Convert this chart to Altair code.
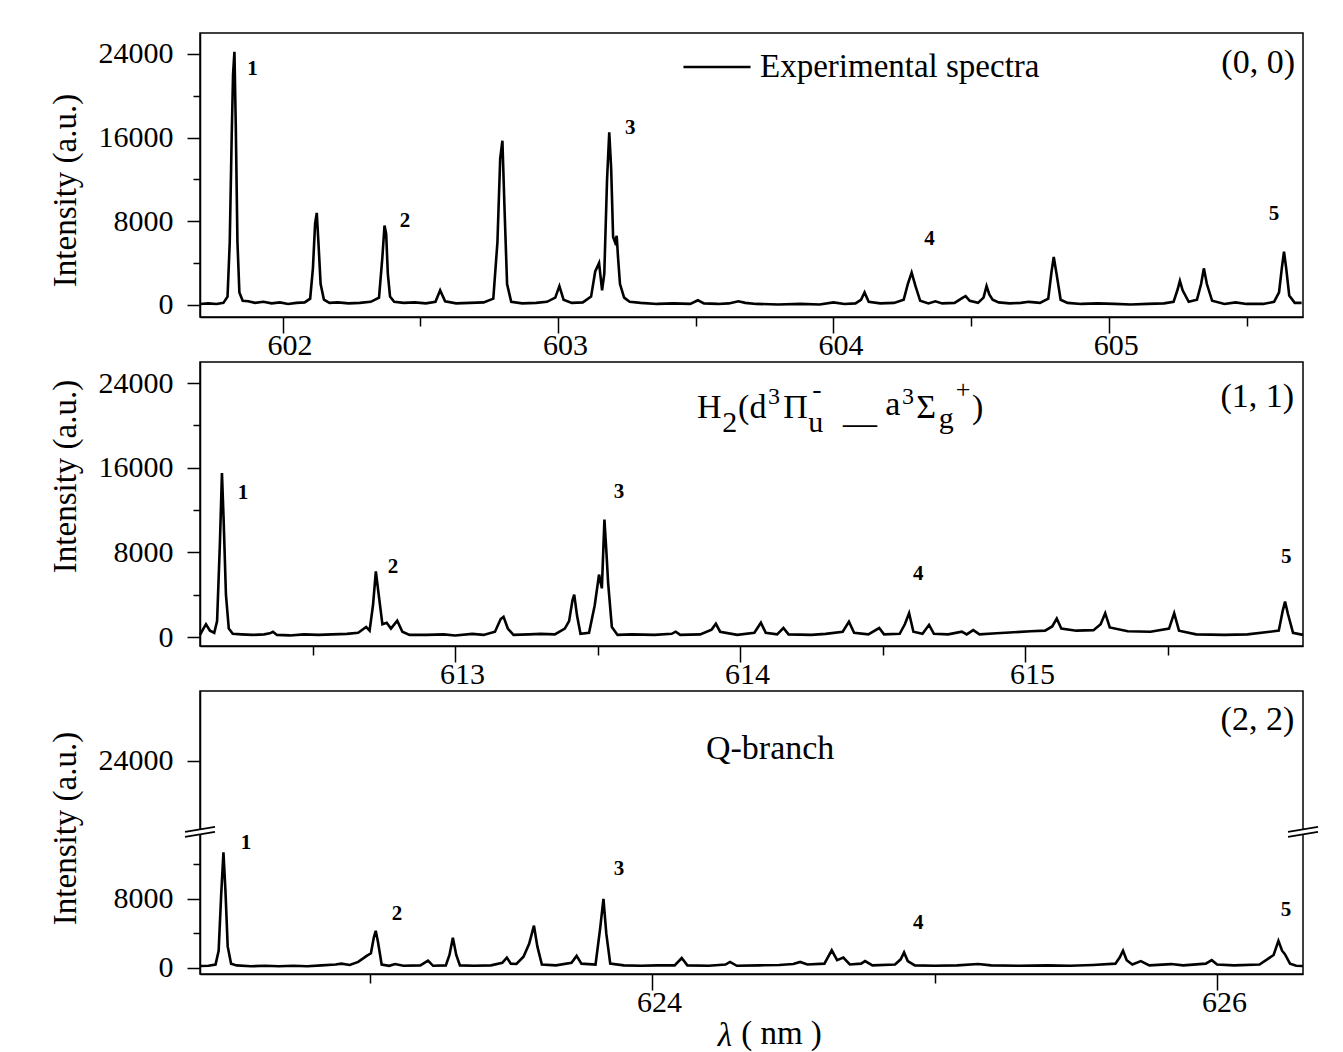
import altair as alt
import pandas as pd

FONT = "Liberation Serif"
W = 1103

# ---------------- spectra (wavelength nm, intensity a.u.) -------------
top_spectrum = [
    (601.700, 100), (601.730, 150), (601.760, 100), (601.785, 200), (601.800, 800), (601.808, 6000),
    (601.815, 16000), (601.820, 22000), (601.825, 24200), (601.830, 17000), (601.836, 6000), (601.843, 1200),
    (601.855, 400), (601.875, 350), (601.900, 200), (601.930, 300), (601.960, 150), (601.990, 250),
    (602.020, 100), (602.050, 200), (602.080, 250), (602.100, 600), (602.110, 3500), (602.118, 7800),
    (602.124, 8800), (602.130, 6000), (602.138, 2000), (602.150, 500), (602.170, 200), (602.200, 250),
    (602.240, 150), (602.280, 200), (602.320, 300), (602.350, 700), (602.362, 4500), (602.370, 7600),
    (602.376, 6800), (602.382, 3000), (602.390, 800), (602.405, 300), (602.440, 200), (602.480, 250),
    (602.520, 150), (602.555, 300), (602.572, 1400), (602.590, 350), (602.630, 150), (602.680, 200),
    (602.730, 250), (602.765, 600), (602.780, 6000), (602.790, 14000), (602.798, 15700), (602.806, 9000),
    (602.815, 2000), (602.830, 300), (602.870, 150), (602.920, 200), (602.960, 300), (602.990, 700),
    (603.005, 1800), (603.020, 500), (603.050, 200), (603.090, 250), (603.120, 800), (603.135, 3200),
    (603.149, 4000), (603.160, 1400), (603.168, 3000), (603.178, 12000), (603.186, 16500), (603.193, 13000),
    (603.200, 6500), (603.207, 6000), (603.213, 6600), (603.218, 4500), (603.225, 2000), (603.240, 700),
    (603.260, 300), (603.300, 200), (603.360, 100), (603.420, 150), (603.480, 100), (603.508, 450),
    (603.530, 150), (603.580, 100), (603.620, 150), (603.655, 350), (603.680, 200), (603.720, 100),
    (603.800, 50), (603.880, 100), (603.950, 50), (604.000, 250), (604.040, 100), (604.080, 150),
    (604.100, 500), (604.113, 1200), (604.128, 300), (604.170, 150), (604.220, 200), (604.255, 500),
    (604.270, 2000), (604.284, 3100), (604.298, 1800), (604.315, 400), (604.345, 150), (604.370, 350),
    (604.395, 150), (604.440, 200), (604.470, 700), (604.480, 850), (604.495, 400), (604.525, 200),
    (604.545, 700), (604.556, 1800), (604.566, 1000), (604.578, 500), (604.600, 250), (604.640, 150),
    (604.680, 200), (604.710, 300), (604.750, 200), (604.780, 600), (604.792, 3200), (604.800, 4600),
    (604.810, 3000), (604.825, 500), (604.850, 200), (604.900, 100), (604.960, 150), (605.020, 100),
    (605.080, 50), (605.140, 100), (605.200, 150), (605.235, 300), (605.250, 1500), (605.258, 2300),
    (605.268, 1400), (605.290, 300), (605.320, 500), (605.335, 2000), (605.345, 3500), (605.356, 2000),
    (605.375, 400), (605.420, 100), (605.460, 250), (605.500, 100), (605.560, 100), (605.600, 300),
    (605.618, 1200), (605.628, 3500), (605.636, 5100), (605.644, 3500), (605.655, 900), (605.675, 200),
    (605.700, 200),
]

mid_spectrum = [
    (612.105, 200), (612.115, 700), (612.126, 1200), (612.140, 600), (612.155, 400), (612.165, 1500),
    (612.175, 9000), (612.182, 15500), (612.188, 11000), (612.196, 4000), (612.206, 800), (612.220, 300),
    (612.250, 250), (612.290, 200), (612.330, 250), (612.350, 350), (612.361, 500), (612.375, 200),
    (612.420, 150), (612.470, 250), (612.520, 200), (612.570, 250), (612.620, 300), (612.660, 400),
    (612.688, 950), (612.700, 600), (612.712, 3000), (612.722, 6200), (612.732, 4000), (612.745, 1200),
    (612.760, 1350), (612.775, 800), (612.797, 1550), (612.815, 500), (612.840, 200), (612.900, 200),
    (612.960, 250), (613.000, 150), (613.060, 300), (613.100, 200), (613.140, 500), (613.160, 1700),
    (613.170, 1900), (613.185, 800), (613.205, 200), (613.260, 250), (613.300, 300), (613.350, 250),
    (613.385, 800), (613.400, 1500), (613.412, 3500), (613.418, 4000), (613.428, 2000), (613.440, 300),
    (613.470, 400), (613.490, 3000), (613.505, 5900), (613.515, 4600), (613.524, 11100), (613.531, 8000),
    (613.537, 5100), (613.550, 950), (613.570, 200), (613.620, 250), (613.700, 200), (613.760, 300),
    (613.774, 500), (613.790, 200), (613.860, 250), (613.900, 700), (613.915, 1250), (613.930, 500),
    (613.990, 200), (614.050, 400), (614.073, 1350), (614.090, 400), (614.130, 250), (614.152, 850),
    (614.170, 250), (614.250, 200), (614.300, 300), (614.360, 500), (614.382, 1450), (614.400, 400),
    (614.450, 250), (614.488, 850), (614.505, 250), (614.560, 300), (614.578, 1200), (614.593, 2250),
    (614.608, 500), (614.640, 300), (614.663, 1150), (614.680, 300), (614.730, 250), (614.778, 500),
    (614.795, 250), (614.818, 650), (614.840, 250), (614.900, 350), (614.960, 450), (615.020, 550),
    (615.070, 600), (615.095, 1000), (615.111, 1750), (615.127, 800), (615.180, 600), (615.240, 650),
    (615.265, 1200), (615.281, 2250), (615.297, 900), (615.360, 550), (615.440, 500), (615.505, 800),
    (615.523, 2250), (615.540, 600), (615.600, 250), (615.700, 200), (615.780, 250), (615.890, 600),
    (615.904, 2500), (615.912, 3350), (615.922, 2200), (615.940, 400), (615.975, 200),
]

bot_spectrum = [
    (622.400, 230), (622.430, 250), (622.455, 400), (622.466, 2000), (622.475, 8500), (622.483, 13400),
    (622.490, 9000), (622.498, 2500), (622.510, 500), (622.530, 300), (622.580, 200), (622.630, 250),
    (622.680, 200), (622.730, 250), (622.780, 200), (622.830, 300), (622.880, 400), (622.900, 500),
    (622.930, 350), (622.960, 700), (622.990, 1400), (623.005, 1700), (623.015, 3500), (623.022, 4300),
    (623.030, 3000), (623.043, 400), (623.070, 250), (623.090, 450), (623.120, 250), (623.180, 300),
    (623.207, 850), (623.225, 250), (623.270, 300), (623.283, 1500), (623.295, 3500), (623.307, 1500),
    (623.320, 300), (623.370, 250), (623.430, 300), (623.470, 600), (623.486, 1200), (623.500, 500),
    (623.520, 460), (623.545, 1300), (623.565, 2800), (623.582, 4900), (623.594, 2500), (623.610, 400),
    (623.660, 300), (623.715, 600), (623.733, 1400), (623.750, 500), (623.800, 400), (623.816, 4500),
    (623.828, 8000), (623.838, 4000), (623.852, 500), (623.900, 300), (623.960, 250), (624.020, 300),
    (624.080, 300), (624.105, 1150), (624.125, 300), (624.200, 250), (624.260, 400), (624.276, 700),
    (624.300, 250), (624.380, 300), (624.450, 350), (624.500, 450), (624.524, 700), (624.550, 400),
    (624.610, 500), (624.636, 2050), (624.655, 900), (624.677, 1200), (624.700, 400), (624.740, 500),
    (624.754, 800), (624.780, 300), (624.860, 400), (624.880, 1000), (624.892, 1800), (624.905, 800),
    (624.930, 300), (625.000, 250), (625.080, 300), (625.154, 460), (625.200, 300), (625.300, 250),
    (625.400, 300), (625.480, 250), (625.560, 350), (625.640, 500), (625.655, 1200), (625.667, 2000),
    (625.680, 900), (625.700, 400), (625.730, 800), (625.760, 300), (625.837, 450), (625.880, 300),
    (625.960, 500), (625.981, 900), (626.000, 400), (626.060, 300), (626.150, 400), (626.200, 1500),
    (626.217, 3150), (626.230, 2000), (626.240, 1600), (626.258, 500), (626.280, 250), (626.304, 230),
]

# ---------------- annotations ----------------
peak_numbers = ["1", "2", "3", "4", "5"]
top_label_x = [601.891, 602.444, 603.262, 604.349, 605.600]
top_label_y = [22570, 8030, 16920, 6310, 8700]
mid_label_x = [612.256, 612.782, 613.575, 614.625, 615.916]
mid_label_y = [13600, 6610, 13700, 5950, 7560]
bot_label_x = [622.563, 623.097, 623.883, 624.942, 626.244]
bot_label_y = [14490, 6260, 11480, 5220, 6720]

band_names = ["(0, 0)", "(1, 1)", "(2, 2)"]
band_x = [605.676, 615.944, 626.273]
band_y = [23140, 22680, 28750]

qbranch_text = ["Q-branch"]
qbranch_x = [624.418]
qbranch_y = [25390]

# H2(d3Πu- __ a3Σg+) built from pieces: text, x (nm), y (intensity), font size
formula_text = ["H", "2", "(d", "3", "Π", "u", "-", "__", "a", "3", "Σ", "g", "+", ")"]
formula_x = [613.849, 613.937, 613.993, 614.098, 614.151, 614.239, 614.253, 614.361,
             614.509, 614.568, 614.618, 614.697, 614.757, 614.814]
formula_y = [20690, 19370, 20690, 22015, 20690, 19370, 22580, 20220,
             20975, 22015, 20690, 19750, 22580, 20690]
formula_size = [34, 30, 34, 24, 34, 30, 28, 34, 34, 24, 34, 30, 26, 34]

series_name = "Experimental spectra"

# x-axis title: italic lambda + unit
lambda_text = ["λ"]
lambda_x = [624.258]
lambda_y = [-7880]
x_unit_title = "( nm )"

# axis breaks on the (2, 2) panel
break_x1 = [622.347, 622.347, 626.251, 626.251]
break_x2 = [622.453, 622.453, 626.357, 626.357]
break_y1 = [15190, 15770, 15190, 15770]
break_y2 = [15770, 16350, 15770, 16350]
gap_x = [622.400, 626.304]
gap_y1 = [15450, 15450]
gap_y2 = [16000, 16000]


def xenc(dom, vals, test, title):
    kw = dict(
        values=vals,
        labelExpr=f"({test}) ? format(datum.value, 'd') : ''",
        tickSize={"condition": {"test": test, "value": 16}, "value": 9},
        labelFontSize=30, labelFont=FONT, labelColor="black", labelOffset=7,
        labelPadding=-3, tickColor="black", tickWidth=1.5, domainColor="black",
        domainWidth=1.5, grid=False, labelFlush=False,
    )
    if title:
        kw.update(title=title, titleFont=FONT, titleFontSize=33, titleFontWeight="normal",
                  titleColor="black", titlePadding=0, titleX=581)
    else:
        kw.update(title=None)
    return alt.X("x:Q", scale=alt.Scale(domain=dom, nice=False, zero=False), axis=alt.Axis(**kw))


def yenc(dom, vals, title_y):
    return alt.Y(
        "y:Q",
        scale=alt.Scale(domain=dom, nice=False, zero=False),
        axis=alt.Axis(
            values=vals,
            labelExpr="(datum.value % 8000 === 0) ? format(datum.value, 'd') : ''",
            tickSize={"condition": {"test": "datum.value % 8000 === 0", "value": 13}, "value": 7},
            labelFontSize=30, labelFont=FONT, labelColor="black", labelPadding=14,
            tickColor="black", tickWidth=1.5, domainColor="black", domainWidth=1.5,
            grid=False, title="Intensity (a.u.)", titleFont=FONT, titleFontSize=33,
            titleFontWeight="normal", titleColor="black", titlePadding=16, titleY=title_y,
        ),
    )


def xs(dom):
    return alt.X("x:Q", scale=alt.Scale(domain=dom, nice=False, zero=False))


def ys(dom):
    return alt.Y("y:Q", scale=alt.Scale(domain=dom, nice=False, zero=False))


def peak_labels(xv, yv, xdom, ydom):
    df = pd.DataFrame({"x": xv, "y": yv, "t": peak_numbers})
    return alt.Chart(df).mark_text(font=FONT, fontSize=21, fontWeight="bold", color="black",
                                   align="center", baseline="middle").encode(
        x=xs(xdom), y=ys(ydom), text="t:N")


def corner(name, xv, yv, xdom, ydom):
    df = pd.DataFrame({"x": [xv], "y": [yv], "t": [name]})
    return alt.Chart(df).mark_text(font=FONT, fontSize=34, color="black", align="right",
                                   baseline="middle").encode(x=xs(xdom), y=ys(ydom), text="t:N")


# ---------------- top panel (0, 0) ----------------
top_xdom = [601.70, 605.705]
top_ydom = [-1150, 26000]
top_df = pd.DataFrame(top_spectrum, columns=["x", "y"])
top_df["series"] = series_name
top_line = alt.Chart(top_df).mark_line(strokeWidth=2.6).encode(
    x=xenc(top_xdom, [602, 602.5, 603, 603.5, 604, 604.5, 605, 605.5], "datum.value % 1 === 0", None),
    y=yenc(top_ydom, [0, 4000, 8000, 12000, 16000, 20000, 24000], 157),
    color=alt.Color("series:N", scale=alt.Scale(range=["black"]),
                    legend=alt.Legend(orient="none", legendX=482, legendY=-1, title=None,
                                      symbolType="stroke", symbolSize=4500, symbolStrokeWidth=2.5,
                                      labelFont=FONT, labelFontSize=33, labelColor="black",
                                      labelOffset=8, labelLimit=0, padding=0)),
)
top = alt.layer(
    top_line,
    peak_labels(top_label_x, top_label_y, top_xdom, top_ydom),
    corner(band_names[0], band_x[0], band_y[0], top_xdom, top_ydom),
).properties(width=W, height=284)

# ---------------- middle panel (1, 1) ----------------
mid_xdom = [612.105, 615.975]
mid_ydom = [-850, 26000]
mid_df = pd.DataFrame(mid_spectrum, columns=["x", "y"])
mid_line = alt.Chart(mid_df).mark_line(color="black", strokeWidth=2.6).encode(
    x=xenc(mid_xdom, [612.5, 613, 613.5, 614, 614.5, 615, 615.5], "datum.value % 1 === 0", None),
    y=yenc(mid_ydom, [0, 4000, 8000, 12000, 16000, 20000, 24000], 114),
)
formula_df = pd.DataFrame({"x": formula_x, "y": formula_y, "t": formula_text, "s": formula_size})
formula = alt.Chart(formula_df).mark_text(font=FONT, color="black", align="left",
                                          baseline="alphabetic").encode(
    x=xs(mid_xdom), y=ys(mid_ydom), text="t:N", size=alt.Size("s:Q", scale=None))
mid = alt.layer(
    mid_line,
    peak_labels(mid_label_x, mid_label_y, mid_xdom, mid_ydom),
    corner(band_names[1], band_x[1], band_y[1], mid_xdom, mid_ydom),
    formula,
).properties(width=W, height=284)

# ---------------- bottom panel (2, 2) ----------------
bot_xdom = [622.40, 626.304]
bot_ydom = [-700, 32100]
bot_df = pd.DataFrame(bot_spectrum, columns=["x", "y"])
bot_line = alt.Chart(bot_df).mark_line(color="black", strokeWidth=2.6).encode(
    x=xenc(bot_xdom, [623, 624, 625, 626], "datum.value % 2 === 0", x_unit_title),
    y=yenc(bot_ydom, [0, 4000, 8000, 12000, 24000], 137),
)
q_df = pd.DataFrame({"x": qbranch_x, "y": qbranch_y, "t": qbranch_text})
qtext = alt.Chart(q_df).mark_text(font=FONT, fontSize=34, color="black", align="center",
                                  baseline="middle").encode(x=xs(bot_xdom), y=ys(bot_ydom), text="t:N")
lam_df = pd.DataFrame({"x": lambda_x, "y": lambda_y, "t": lambda_text})
lam = alt.Chart(lam_df).mark_text(font=FONT, fontSize=33, fontStyle="italic", color="black",
                                  align="center", baseline="middle").encode(
    x=xs(bot_xdom), y=ys(bot_ydom), text="t:N")
gap_df = pd.DataFrame({"x": gap_x, "y": gap_y1, "y2": gap_y2})
gaps = alt.Chart(gap_df).mark_rule(color="white", strokeWidth=5).encode(
    x=xs(bot_xdom), y=ys(bot_ydom), y2="y2:Q")
brk_df = pd.DataFrame({"x": break_x1, "x2": break_x2, "y": break_y1, "y2": break_y2})
breaks = alt.Chart(brk_df).mark_rule(color="black", strokeWidth=1.6).encode(
    x=xs(bot_xdom), x2="x2:Q", y=ys(bot_ydom), y2="y2:Q")
bot = alt.layer(
    bot_line,
    peak_labels(bot_label_x, bot_label_y, bot_xdom, bot_ydom),
    corner(band_names[2], band_x[2], band_y[2], bot_xdom, bot_ydom),
    qtext, lam, gaps, breaks,
).properties(width=W, height=283)

chart = alt.vconcat(top, mid, bot, spacing=45, bounds="flush").properties(
    padding={"left": 48, "top": 32, "right": 5, "bottom": 5},
    background="white",
).configure_view(stroke="black", strokeWidth=1.5)

chart.save("out.html", embed_options={"renderer": "svg", "actions": False})
